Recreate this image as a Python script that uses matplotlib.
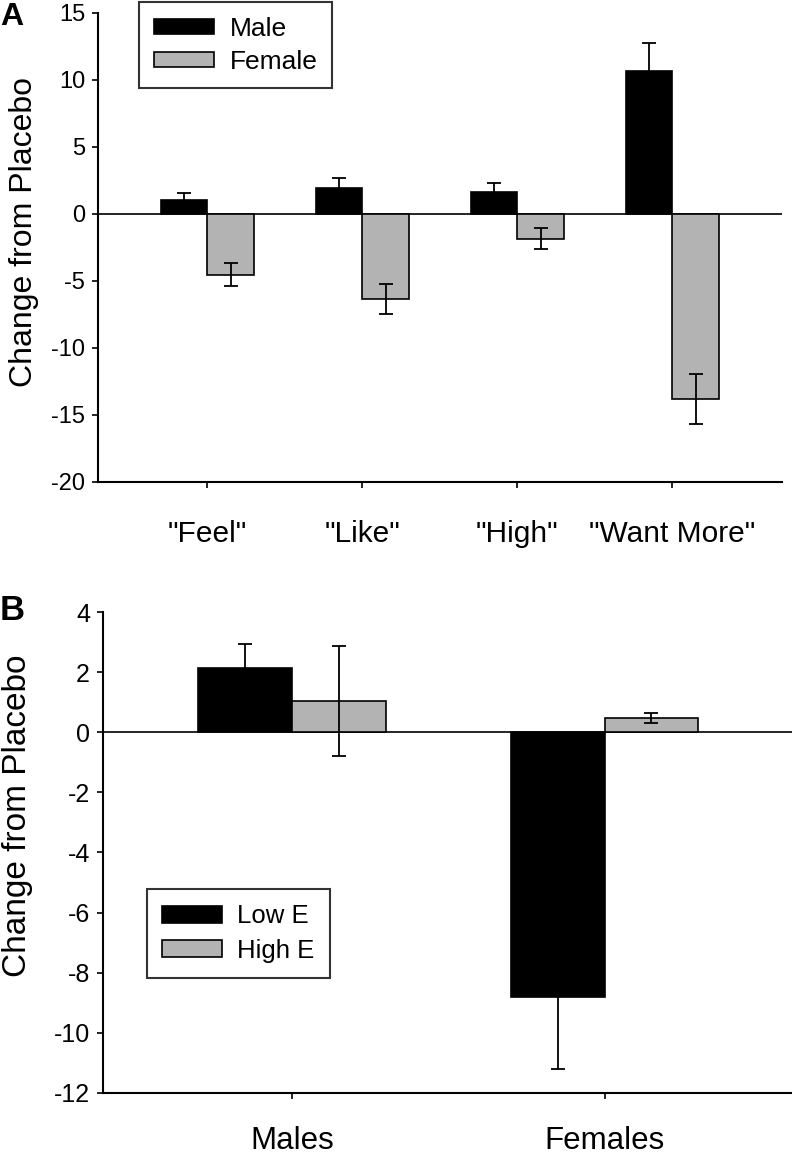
import matplotlib
matplotlib.use('Agg')
import matplotlib.pyplot as plt
import numpy as np

plt.rcParams['font.family'] = ['Liberation Sans', 'DejaVu Sans']
plt.rcParams['axes.unicode_minus'] = False

# Panel A data
ratings = ['"Feel"', '"Like"', '"High"', '"Want More"']
male_change = [1.05, 1.9, 1.65, 10.65]
male_err = [0.5, 0.8, 0.63, 2.1]
female_change = [-4.55, -6.35, -1.85, -13.8]
female_err = [0.85, 1.15, 0.78, 1.85]

# Panel B data
groups = ['Males', 'Females']
low_e_change = [2.15, -8.8]
low_e_err = [0.8, 2.4]
high_e_change = [1.04, 0.48]
high_e_err = [1.84, 0.18]

W, H = 792, 1158
fig = plt.figure(figsize=(W / 100, H / 100), dpi=100)
GRAY = '#b3b3b3'


def px_axes(left, right, top, bottom):
    return fig.add_axes([left / W, 1 - bottom / H, (right - left) / W, (bottom - top) / H])


def style_axes(ax, ytick_size, xtick_size, xpad):
    for s in ['top', 'right']:
        ax.spines[s].set_visible(False)
    for s in ['left', 'bottom']:
        ax.spines[s].set_linewidth(1.5)
    ax.axhline(0, color='black', lw=1.2, zorder=1)
    ax.tick_params(axis='y', direction='out', length=4.3, width=1.2, labelsize=ytick_size, pad=5)
    ax.tick_params(axis='x', direction='out', length=4.3, width=1.2, labelsize=xtick_size, pad=xpad)


def draw_bars(ax, vals1, err1, vals2, err2):
    x = np.arange(len(vals1))
    w = 0.3
    ax.bar(x - w / 2, vals1, w, color='black', edgecolor='black', lw=1.2, zorder=2)
    ax.bar(x + w / 2, vals2, w, color=GRAY, edgecolor='black', lw=1.2, zorder=2)
    ax.errorbar(x - w / 2, vals1, yerr=err1, fmt='none', ecolor='black',
                elinewidth=1.3, capsize=5, capthick=1.3, zorder=3)
    ax.errorbar(x + w / 2, vals2, yerr=err2, fmt='none', ecolor='black',
                elinewidth=1.3, capsize=5, capthick=1.3, zorder=3)
    return x


# ---- Panel A ----
axA = px_axes(98, 782, 12.7, 482)
xA = draw_bars(axA, male_change, male_err, female_change, female_err)
axA.set_xlim(-0.705, len(ratings) - 1 + 0.708)
axA.set_ylim(-20, 15)
axA.set_yticks(np.arange(-20, 16, 5))
axA.set_xticks(xA)
axA.set_xticklabels(ratings)
style_axes(axA, 17, 21.5, 23)

legA = axA.legend([plt.Rectangle((0, 0), 1, 1, fc='black', ec='black', lw=1.2),
                   plt.Rectangle((0, 0), 1, 1, fc=GRAY, ec='black', lw=1.2)],
                  ['Male', 'Female'], loc='upper left',
                  bbox_to_anchor=(139 / W, 1 - 2 / H), bbox_transform=fig.transFigure,
                  fontsize=19, frameon=True, fancybox=False, edgecolor='black',
                  handlelength=2.3, handleheight=0.5, handletextpad=0.6,
                  labelspacing=0.35, borderpad=0.55, borderaxespad=0)
legA.get_frame().set_linewidth(1.5)

fig.text(24 / W, 1 - 232 / H, 'Change from Placebo', rotation=90,
         ha='center', va='center', fontsize=23)
fig.text(0, 1 - 2 / H, 'A', fontsize=23, fontweight='bold', ha='left', va='top')

# ---- Panel B ----
axB = px_axes(103, 792, 612.3, 1092.7)
xB = draw_bars(axB, low_e_change, low_e_err, high_e_change, high_e_err)
axB.set_xlim(-0.605, len(groups) - 1 + 0.6)
axB.set_ylim(-12, 4)
axB.set_yticks(np.arange(-12, 5, 2))
axB.set_xticks(xB)
axB.set_xticklabels(groups)
style_axes(axB, 18, 22.5, 20)

legB = axB.legend([plt.Rectangle((0, 0), 1, 1, fc='black', ec='black', lw=1.2),
                   plt.Rectangle((0, 0), 1, 1, fc=GRAY, ec='black', lw=1.2)],
                  ['Low E', 'High E'], loc='upper left',
                  bbox_to_anchor=(147 / W, 1 - 889 / H), bbox_transform=fig.transFigure,
                  fontsize=18.5, frameon=True, fancybox=False, edgecolor='black',
                  handlelength=2.3, handleheight=0.6, handletextpad=0.6,
                  labelspacing=0.4, borderpad=0.6, borderaxespad=0)
legB.get_frame().set_linewidth(1.5)

fig.text(18 / W, 1 - 816 / H, 'Change from Placebo', rotation=90,
         ha='center', va='center', fontsize=24)
fig.text(0, 1 - 594 / H, 'B', fontsize=25, fontweight='bold', ha='left', va='top')

fig.savefig('out.png', dpi=100)
